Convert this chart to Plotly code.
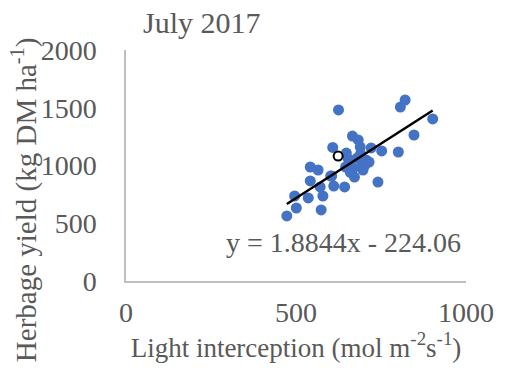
import plotly.graph_objects as go

# Light interception (mol m-2 s-1) and herbage yield (kg DM ha-1), July 2017
light = [473, 501, 496, 574, 536, 579, 571, 542, 542, 565, 605, 611, 643, 625,
         608, 648, 666, 683, 689, 721, 752, 801, 654, 680, 706, 703, 646, 669,
         697, 672, 741, 602, 847, 902, 807, 821, 660, 690, 715, 695]
yield_ = [563, 632, 736, 615, 719, 736, 814, 866, 987, 961, 909, 822, 814, 1481,
          1156, 1108, 1255, 1221, 1160, 1152, 1126, 1117, 1056, 1065, 1048, 1004,
          987, 978, 961, 900, 857, 909, 1264, 1403, 1506, 1567, 940, 1100, 1030, 1020]

# highlighted observation
hl_light = [624]
hl_yield = [1082]

# linear fit y = 1.8844x - 224.06
slope = 1.8844
intercept = -224.06
fit_x = [min(light), max(light)]
fit_y = [slope * v + intercept for v in fit_x]

FONT = "Liberation Serif, Times New Roman, serif"
GREY = "#595959"

fig = go.Figure()
fig.add_trace(go.Scatter(x=light, y=yield_, mode="markers",
                         marker=dict(color="#4472C4", size=11, line=dict(width=0)),
                         showlegend=False))
fig.add_trace(go.Scatter(x=fit_x, y=fit_y, mode="lines",
                         line=dict(color="black", width=2.5), showlegend=False))
fig.add_trace(go.Scatter(x=hl_light, y=hl_yield, mode="markers",
                         marker=dict(color="white", size=9,
                                     line=dict(color="black", width=2)),
                         showlegend=False))

# regression equation, panel title and vertical axis title
fig.add_annotation(text="y = 1.8844x - 224.06", x=0.99, y=0.165,
                   xref="paper", yref="paper", xanchor="right", yanchor="middle",
                   showarrow=False, font=dict(family=FONT, size=28, color=GREY))
fig.add_annotation(text="July 2017", x=0.045, y=1.12,
                   xref="paper", yref="paper", xanchor="left", yanchor="middle",
                   showarrow=False, font=dict(family=FONT, size=30, color=GREY))
fig.add_annotation(text="Herbage yield (kg DM ha<sup>-1</sup>)", textangle=-90,
                   x=-0.3, y=0.35, xref="paper", yref="paper",
                   xanchor="center", yanchor="middle", showarrow=False,
                   font=dict(family=FONT, size=29, color=GREY))

fig.update_layout(
    width=506, height=377,
    margin=dict(l=126, r=33, t=50, b=96),
    paper_bgcolor="white", plot_bgcolor="white",
    font=dict(family=FONT, color=GREY),
    xaxis=dict(range=[0, 1000], tickvals=[0, 500, 1000], showgrid=False,
               zeroline=False, showline=True, linecolor="#bfbfbf", linewidth=1.5,
               ticks="", tickfont=dict(size=28, color=GREY), ticklabelstandoff=6,
               title=dict(text="Light interception (mol m<sup>-2</sup>s<sup>-1</sup>)",
                          font=dict(size=27, color=GREY), standoff=6)),
    yaxis=dict(range=[0, 2000], tickvals=[0, 500, 1000, 1500, 2000], showgrid=False,
               zeroline=False, showline=True, linecolor="#bfbfbf", linewidth=1.5,
               ticks="", tickfont=dict(size=28, color=GREY), ticklabelstandoff=22),
)

fig.write_html("out.html")
